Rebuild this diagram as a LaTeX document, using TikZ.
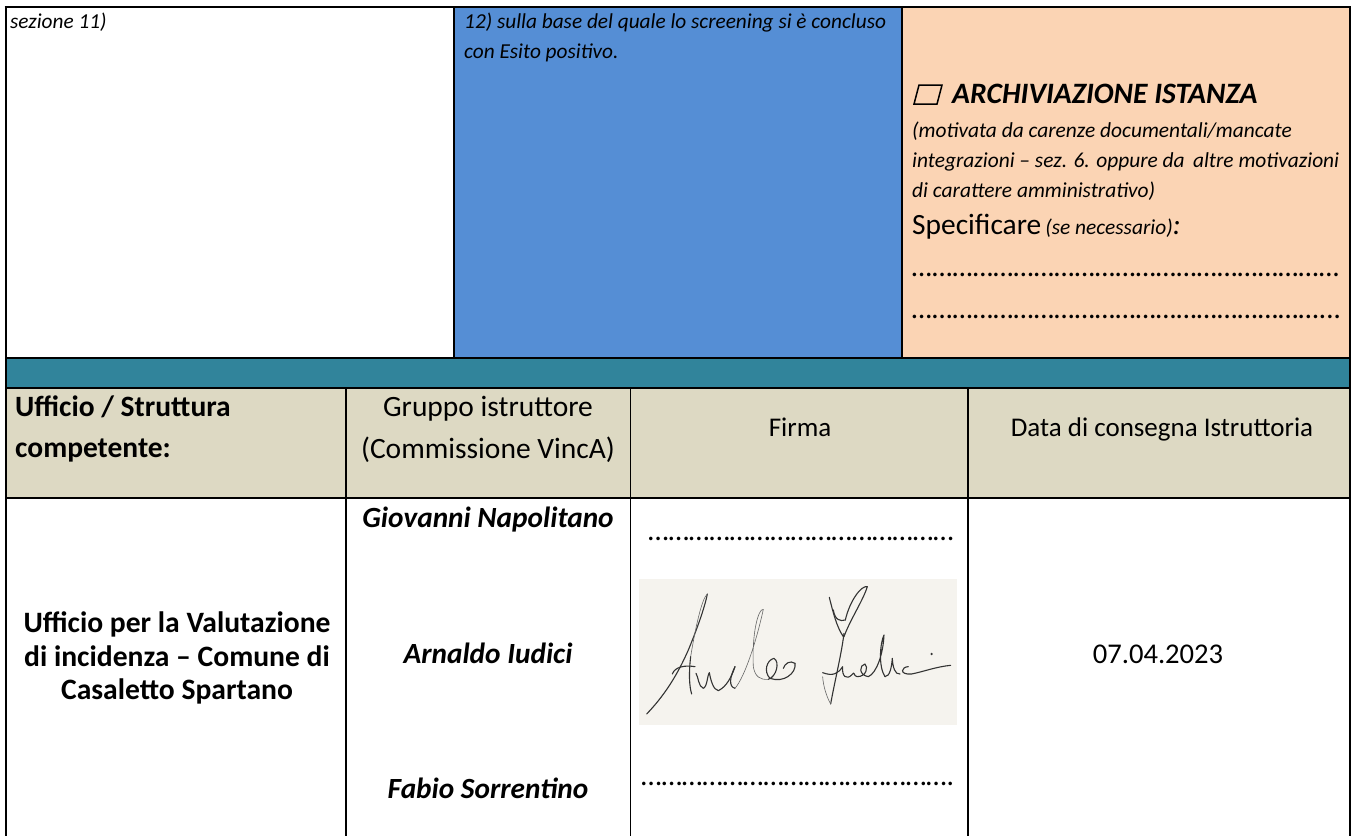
\documentclass[tikz,border=0pt]{standalone}
\usepackage{fontspec}
\setmainfont{Carlito}
\definecolor{bluec}{HTML}{558ED5}
\definecolor{peach}{HTML}{FBD4B4}
\definecolor{teal2}{HTML}{31849B}
\definecolor{tan2}{HTML}{DDD9C3}
\definecolor{paper}{HTML}{F5F3EE}
\newcommand{\fivedots}{……………}
\tikzset{
 x=1pt,y=-1pt,
 cell/.style={draw=black,line width=2pt},
 thin cell/.style={draw=black,line width=1.8pt},
 txt/.style={inner sep=0pt,anchor=base west,font=\fontsize{#1}{#1}\selectfont},
 ctr/.style={inner sep=0pt,align=center,anchor=base,font=\fontsize{#1}{#1}\selectfont},
 ink/.style={draw=black!80,line width=1.1pt,line cap=round,line join=round},
 faint/.style={draw=black!60,line width=0.6pt,line cap=round,line join=round}
}
\begin{document}
\begin{tikzpicture}
\useasboundingbox (0,0) rectangle (1356,836);
\fill[white] (0,0) rectangle (1356,836);
% fills
\fill[bluec] (454,7) rectangle (902,358);
\fill[peach] (902,7) rectangle (1350,358);
\fill[teal2] (5.5,358) rectangle (1350,387.5);
\fill[tan2] (5.5,387.5) rectangle (1350,497.5);
% grid
\draw[cell] (4.5,7) -- (1351,7);
\draw[cell] (5.5,7) -- (5.5,836);
\draw[cell] (1350,7) -- (1350,836);
\draw[cell] (5.5,358) -- (1350,358);
\draw[cell] (5.5,387.5) -- (1350,387.5);
\draw[cell] (5.5,497.5) -- (1350,497.5);
\draw[thin cell] (454,7) -- (454,358);
\draw[thin cell] (902,7) -- (902,358);
\draw[thin cell] (346,387.5) -- (346,836);
\draw[thin cell] (630.5,387.5) -- (630.5,836);
\draw[thin cell] (968,387.5) -- (968,836);
% top row
\node[txt=21.3] (a1) at (10,28) {\itshape sezione 11)};
\node[txt=21.3] (b1) at (464,28) {\itshape 12) sulla base del quale lo screening si è concluso};
\node[txt=21.3] (b2) at (464,58) {\itshape con Esito positivo.};
% checkbox
\draw[black,line width=1.5pt] (919,85) -- (942,85) -- (937,104) -- (914,104) -- cycle;
\node[txt=29.6] (c1) at (952,103) {\bfseries\itshape ARCHIVIAZIONE ISTANZA};
\node[txt=21.4] (c2) at (912,137) {\itshape (motivata da carenze documentali/mancate};
\node[txt=21.4] (c3) at (912,167) {\itshape integrazioni – sez. 6. oppure da\, altre motivazioni};
\node[txt=21.4] (c4) at (912,197) {\itshape di carattere amministrativo)};
\node[txt=29.4] (c5) at (912,234) {Specificare{\hskip 4pt\itshape\fontsize{21.4}{21.4}\selectfont (se necessario)}{\itshape :}};
\node[txt=29.5] (c6) at (912,276) {\itshape \fivedots\fivedots\fivedots\fivedots…};
\node[txt=29.5] (c7) at (912,318) {\itshape \fivedots\fivedots\fivedots\fivedots...};
% header
\node[txt=29.5] (h1) at (15,416) {\bfseries Ufficio / Struttura};
\node[txt=29.5] (h2) at (15,457) {\bfseries competente:};
\node[ctr=29.5] (h3) at (488,416) {Gruppo istruttore};
\node[ctr=29.5] (h4) at (488,458) {(Commissione VincA)};
\node[ctr=27] (h5) at (800,436) {Firma};
\node[ctr=27] (h6) at (1162,436) {Data di consegna Istruttoria};
% body
\node[ctr=29.6] (o1) at (177,632) {\bfseries Ufficio per la Valutazione};
\node[ctr=29.6] (o2) at (177,666) {\bfseries di incidenza – Comune di};
\node[ctr=29.6] (o3) at (177,699) {\bfseries Casaletto Spartano};
\node[ctr=29.3] (n1) at (488,527) {\bfseries\itshape Giovanni Napolitano};
\node[ctr=29.3] (n2) at (488,663) {\bfseries\itshape Arnaldo Iudici};
\node[ctr=29.3] (n3) at (488,798) {\bfseries\itshape Fabio Sorrentino};
\node[txt=29.5] (d1) at (648,540) {\fivedots\fivedots\fivedots};
\node[txt=29.5] (d2) at (641,785) {\fivedots\fivedots\fivedots.};
\node[ctr=28.6] (dt) at (1158,663) {07.04.2023};
% signature
\fill[paper] (639,579) rectangle (957,725);
\begin{scope}[shift={(620,520)},x=0.3333pt,y=-0.3333pt]
\draw[ink] (80,582) .. controls (130,530) and (170,470) .. (205,390) .. controls (230,330) and (255,260) .. (262,222);
\draw[faint] (262,222) .. controls (245,235) and (225,330) .. (212,410);
\draw[ink] (212,410) .. controls (206,460) and (208,500) .. (215,522);
\draw[ink] (157,462) .. controls (165,440) and (195,435) .. (225,440);
\draw[ink] (228,460) .. controls (235,470) and (235,500) .. (250,505) .. controls (262,500) and (262,465) .. (268,458) .. controls (272,480) and (280,510) .. (295,512) .. controls (320,500) and (335,470) .. (345,440);
\draw[ink] (345,440) .. controls (330,470) and (325,500) .. (345,505);
\draw[faint] (345,505) .. controls (375,470) and (410,360) .. (430,268) .. controls (415,265) and (395,340) .. (400,440) .. controls (405,470) and (420,480) .. (445,478);
\draw[ink] (445,478) .. controls (470,470) and (480,425) .. (462,415) .. controls (440,420) and (430,455) .. (450,475) .. controls (490,490) and (530,460) .. (525,430);
\draw[ink] (525,430) .. controls (510,420) and (495,430) .. (490,445);
\draw[ink] (628,232) .. controls (640,280) and (650,320) .. (670,350);
\draw[ink] (672,350) .. controls (690,300) and (730,240) .. (742,200) .. controls (725,195) and (690,240) .. (676,300);
\draw[ink] (640,270) .. controls (645,300) and (660,305) .. (676,300);
\draw[ink] (672,340) .. controls (665,400) and (645,480) .. (632,552);
\draw[faint] (632,552) .. controls (620,530) and (610,500) .. (608,470);
\draw[ink] (608,458) .. controls (640,470) and (655,460) .. (668,440) .. controls (665,470) and (680,480) .. (695,465) .. controls (705,450) and (700,470) .. (712,470) .. controls (740,470) and (745,440) .. (735,432) .. controls (718,435) and (715,465) .. (745,470) .. controls (770,460) and (790,400) .. (792,345) .. controls (780,370) and (775,440) .. (795,470);
\draw[ink] (795,470) .. controls (810,470) and (815,440) .. (817,415) .. controls (818,440) and (825,465) .. (840,462);
\draw[ink] (865,440) .. controls (845,440) and (835,465) .. (875,462) .. controls (910,455) and (950,440) .. (992,436);
\fill[black!80] (935,402) circle (4);
\end{scope}
\end{tikzpicture}
\end{document}
